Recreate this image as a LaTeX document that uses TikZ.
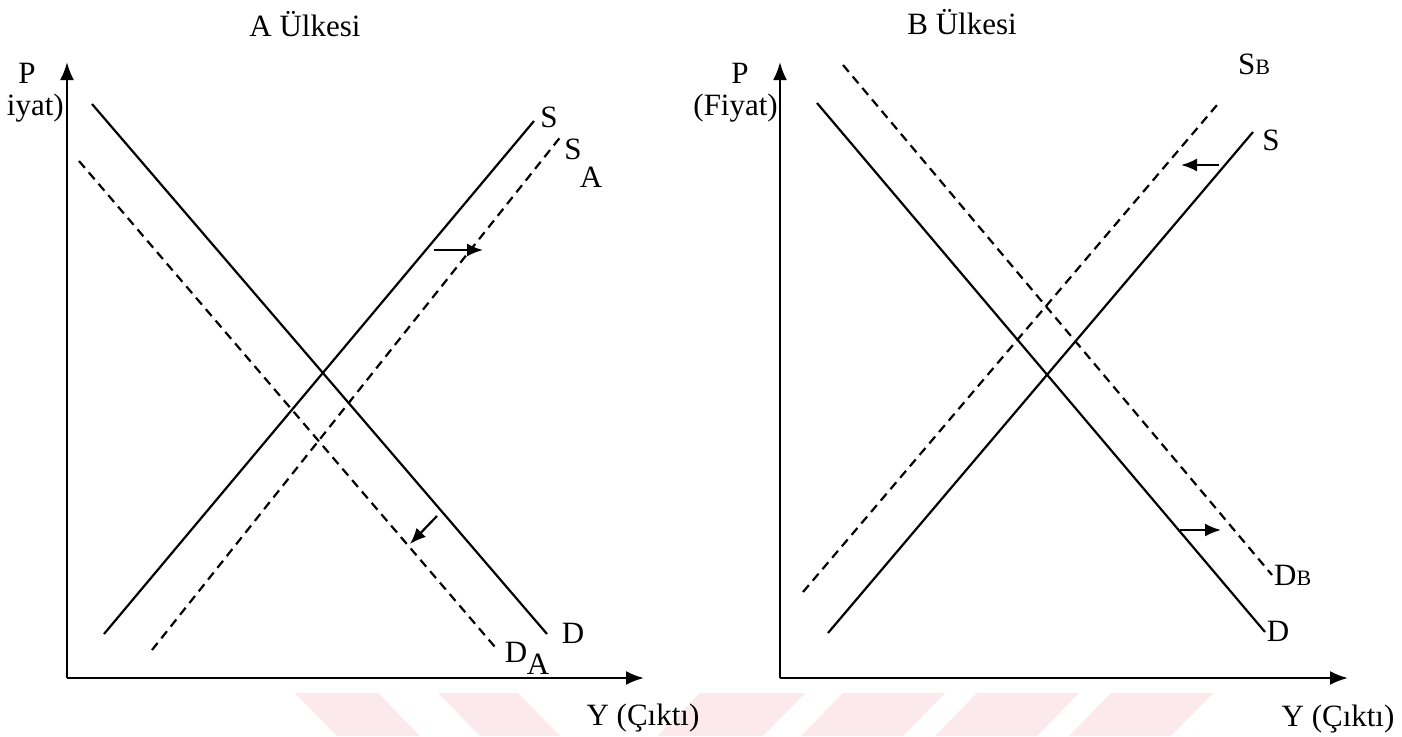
\documentclass[tikz,border=0pt]{standalone}
\usepackage{fontspec}
\setmainfont{Liberation Serif}
\usetikzlibrary{arrows.meta}
\definecolor{wm}{RGB}{252,233,237}
\begin{document}
\begin{tikzpicture}[x=1pt,y=-1pt,
  curve/.style={line width=2.2pt},
  dcurve/.style={line width=2.2pt, dash pattern=on 9pt off 6pt},
  axis/.style={line width=2.4pt,-{Latex[length=18pt,width=14pt]}},
  shiftarrow/.style={line width=2.2pt,-{Latex[length=16pt,width=13pt]}},
  lbl/.style={inner sep=0pt,font=\fontsize{31}{33}\selectfont}]
\useasboundingbox (0,0) rectangle (1402,736);
% watermark
\fill[wm] (295,693) -- (378,693) -- (420,736) -- (337,736) -- cycle;
\fill[wm] (438,693) -- (518,693) -- (560,736) -- (480,736) -- cycle;
\fill[wm] (700,693) -- (805,693) -- (763,736) -- (658,736) -- cycle;
\fill[wm] (843,693) -- (945,693) -- (903,736) -- (801,736) -- cycle;
\fill[wm] (977,693) -- (1079,693) -- (1037,736) -- (935,736) -- cycle;
\fill[wm] (1111,693) -- (1213,693) -- (1171,736) -- (1069,736) -- cycle;

% ---------- Left panel: A Ulkesi ----------
\node[lbl] (tA) at (305,24) {A Ülkesi};
\coordinate (Ao) at (67,678);
\coordinate (Ay) at (67,62);
\coordinate (Ax) at (644,678);
\draw[axis] (Ao) -- (Ay);
\draw[axis] (Ao) -- (Ax);
\node[lbl] (PA) at (27,73) {P};
\node[lbl,anchor=east] (FA) at (64,108) {iyat)};
\node[lbl] (YA) at (643,718) {Y (Çıktı)};

\coordinate (AD1) at (92,104);  \coordinate (AD2) at (547,634);
\coordinate (ADa1) at (79,161); \coordinate (ADa2) at (495,647);
\coordinate (AS1) at (104,634); \coordinate (AS2) at (534,121);
\coordinate (ASa1) at (152,650); \coordinate (ASa2) at (562,135);
\draw[curve] (AD1) -- (AD2);
\draw[dcurve] (ADa1) -- (ADa2);
\draw[curve] (AS1) -- (AS2);
\draw[dcurve] (ASa1) -- (ASa2);
\node[lbl] (lAS) at (549,117) {S};
\node[lbl] (lASa) at (573,149) {S};
\node[lbl] (lASas) at (591,177) {A};
\node[lbl] (lAD) at (573,633) {D};
\node[lbl] (lADa) at (516,652) {D};
\node[lbl] (lADas) at (538,664) {A};
\coordinate (ar1s) at (434,250); \coordinate (ar1e) at (483,250);
\coordinate (ar2s) at (437,516); \coordinate (ar2e) at (410,544);
\draw[shiftarrow] (ar1s) -- (ar1e);
\draw[shiftarrow] (ar2s) -- (ar2e);

% ---------- Right panel: B Ulkesi ----------
\node[lbl] (tB) at (962,22) {B Ülkesi};
\coordinate (Bo) at (780,678);
\coordinate (By) at (780,62);
\coordinate (Bx) at (1348,678);
\draw[axis] (Bo) -- (By);
\draw[axis] (Bo) -- (Bx);
\node[lbl] (PB) at (740,73) {P};
\node[lbl,anchor=east] (FB) at (778,108) {(Fiyat)};
\node[lbl] (YB) at (1338,719) {Y (Çıktı)};

\coordinate (BD1) at (817,103);  \coordinate (BD2) at (1265,632);
\coordinate (BDb1) at (843,65);  \coordinate (BDb2) at (1272,575);
\coordinate (BS1) at (828,633);  \coordinate (BS2) at (1253,132);
\coordinate (BSb1) at (803,592); \coordinate (BSb2) at (1217,105);
\draw[curve] (BD1) -- (BD2);
\draw[dcurve] (BDb1) -- (BDb2);
\draw[curve] (BS1) -- (BS2);
\draw[dcurve] (BSb1) -- (BSb2);
\node[lbl] (lBS) at (1271,140) {S};
\node[lbl,anchor=base west] (lBSb) at (1238,74) {S\fontsize{22}{24}\selectfont B};
\node[lbl] (lBD) at (1278,631) {D};
\node[lbl,anchor=base west] (lBDb) at (1274,585) {D\fontsize{22}{24}\selectfont B};
\coordinate (ar3s) at (1219,165); \coordinate (ar3e) at (1181,165);
\coordinate (ar4s) at (1180,530); \coordinate (ar4e) at (1221,530);
\draw[shiftarrow] (ar3s) -- (ar3e);
\draw[shiftarrow] (ar4s) -- (ar4e);
\end{tikzpicture}
\end{document}
